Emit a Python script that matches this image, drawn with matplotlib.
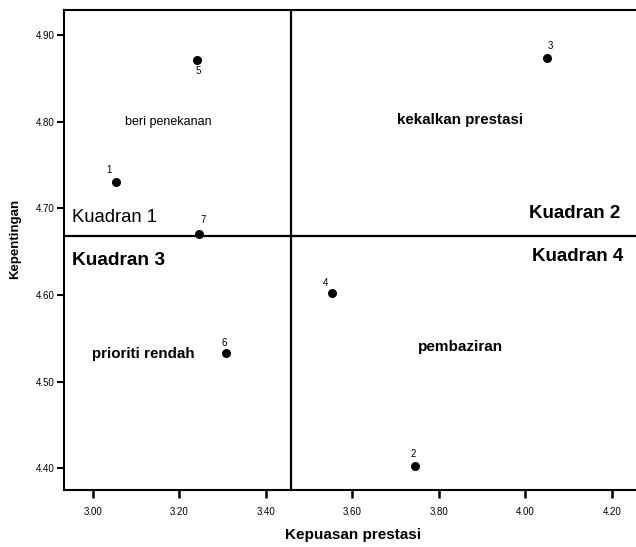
import matplotlib
matplotlib.use("Agg")
import matplotlib.pyplot as plt

plt.rcParams['font.family'] = ['Liberation Sans', 'DejaVu Sans']

# Data
ids = ['1', '2', '3', '4', '5', '6', '7']
kepuasan = [3.053, 3.745, 4.049, 3.553, 3.240, 3.308, 3.245]
kepentingan = [4.730, 4.403, 4.873, 4.602, 4.871, 4.533, 4.671]
x_mean = 3.458
y_mean = 4.668
xticks = [3.00, 3.20, 3.40, 3.60, 3.80, 4.00, 4.20]
yticks = [4.40, 4.50, 4.60, 4.70, 4.80, 4.90]

# label offsets in points (dx, dy, ha, va)
offsets = {
    '1': (-5, 5, 'center', 'bottom'),
    '2': (-1, 5, 'center', 'bottom'),
    '3': (3, 5, 'center', 'bottom'),
    '4': (-5, 4, 'center', 'bottom'),
    '5': (1, -4, 'center', 'top'),
    '6': (-1, 4, 'center', 'bottom'),
    '7': (3, 6, 'center', 'bottom'),
}

fig = plt.figure(figsize=(6.36, 5.47), dpi=100)
ax = fig.add_axes([0.1006, 0.104, 0.8994, 0.878])

ax.set_xlim(2.933, 4.256)
ax.set_ylim(4.375, 4.929)

ax.axvline(x_mean, color='black', lw=1.6)
ax.axhline(y_mean, color='black', lw=1.6)

ax.scatter(kepuasan, kepentingan, s=30, color='black', zorder=3)
for lab, x, y in zip(ids, kepuasan, kepentingan):
    dx, dy, ha, va = offsets[lab]
    ax.annotate(lab, (x, y), xytext=(dx, dy), textcoords='offset points',
                ha=ha, va=va, fontsize=7)

ax.set_xticks(xticks)
ax.set_xticklabels([f'{v:.2f}' for v in xticks], fontsize=7)
ax.set_yticks(yticks)
ax.set_yticklabels([f'{v:.2f}' for v in yticks], fontsize=7)
ax.tick_params(axis='x', length=6, width=1.8, pad=6)
ax.tick_params(axis='y', length=5, width=1.5, pad=2)

for s in ['left', 'bottom', 'top']:
    ax.spines[s].set_linewidth(1.5)
ax.spines['right'].set_visible(False)

ax.set_xlabel('Kepuasan prestasi', fontsize=11, fontweight='bold')
ax.set_ylabel('Kepentingan', fontsize=9.5, fontweight='bold')
ax.xaxis.set_label_coords(0.505, -0.079)
ax.yaxis.set_label_coords(-0.075, 0.523)

# Quadrant texts
ax.text(2.951, 4.690, 'Kuadran 1', fontsize=13.3, ha='left', va='center')
ax.text(4.219, 4.694, 'Kuadran 2', fontsize=13.5, ha='right', va='center', fontweight='bold')
ax.text(2.951, 4.640, 'Kuadran 3', fontsize=13.8, ha='left', va='center', fontweight='bold')
ax.text(4.226, 4.644, 'Kuadran 4', fontsize=13.5, ha='right', va='center', fontweight='bold')

ax.text(3.174, 4.800, 'beri penekanan', fontsize=9, ha='center', va='center')
ax.text(3.849, 4.802, 'kekalkan prestasi', fontsize=10.9, ha='center', va='center', fontweight='bold')
ax.text(3.117, 4.532, 'prioriti rendah', fontsize=10.9, ha='center', va='center', fontweight='bold')
ax.text(3.851, 4.540, 'pembaziran', fontsize=11, ha='center', va='center', fontweight='bold')

fig.savefig('out.png', dpi=100)
